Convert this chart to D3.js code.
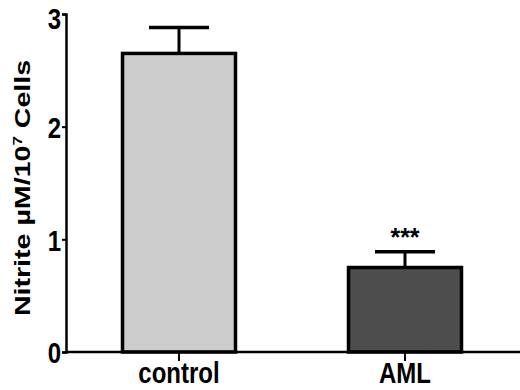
<!DOCTYPE html>
<meta charset="utf-8">
<style>
body { margin: 0; background: #fff; }
svg, text { font-family: 'Liberation Sans', Arial, sans-serif; font-weight: bold; }
</style>
<body>
<script src="https://d3js.org/d3.v7.min.js"></script>
<script>

var groups = ["control", "AML"];
var means = [2.65, 0.75];
var errs = [0.23, 0.14];
var colors = ["#cccccc", "#4d4d4d"];
var stars = ["", "***"];
var yTicks = [0, 1, 2, 3];

var width = 520, height = 390;
var margin = {top: 14, right: 0, bottom: 38, left: 66};
var stretch = 1.25; // text in the picture is drawn taller than wide

var svg = d3.select("body").append("svg")
    .attr("width", width)
    .attr("height", height);

var x = d3.scaleBand()
    .domain(groups)
    .range([margin.left, 518])
    .paddingInner(0.5)
    .paddingOuter(0.25);

var y = d3.scaleLinear()
    .domain([0, 3])
    .range([352, margin.top]);

// bars
svg.selectAll(".bar")
    .data(groups)
  .enter().append("rect")
    .attr("class", "bar")
    .attr("x", function(d) { return x(d); })
    .attr("y", function(d, i) { return y(means[i]); })
    .attr("width", x.bandwidth())
    .attr("height", function(d, i) { return y(0) - y(means[i]); })
    .style("fill", function(d, i) { return colors[i]; })
    .style("stroke", "#000")
    .style("stroke-width", 3.5);

// error bars (upper only)
var eb = svg.selectAll(".err")
    .data(groups)
  .enter().append("g")
    .attr("class", "err");

eb.append("line")
    .attr("x1", function(d) { return x(d) + x.bandwidth() / 2; })
    .attr("x2", function(d) { return x(d) + x.bandwidth() / 2; })
    .attr("y1", function(d, i) { return y(means[i]); })
    .attr("y2", function(d, i) { return y(means[i] + errs[i]); })
    .style("stroke", "#000").style("stroke-width", 3);

eb.append("line")
    .attr("x1", function(d) { return x(d) + x.bandwidth() / 2 - 30; })
    .attr("x2", function(d) { return x(d) + x.bandwidth() / 2 + 30; })
    .attr("y1", function(d, i) { return y(means[i] + errs[i]); })
    .attr("y2", function(d, i) { return y(means[i] + errs[i]); })
    .style("stroke", "#000").style("stroke-width", 3.5);

eb.append("text")
    .attr("x", function(d) { return x(d) + x.bandwidth() / 2; })
    .attr("y", function(d, i) { return y(means[i] + errs[i]) - 6; })
    .attr("text-anchor", "middle")
    .style("font-size", "25px")
    .text(function(d, i) { return stars[i]; });

// axes
var yAxis = d3.axisLeft(y).tickValues(yTicks).tickFormat(d3.format("d")).tickSizeOuter(0).tickSize(4).tickPadding(1);
var gy = svg.append("g")
    .attr("transform", "translate(" + margin.left + ",0)")
    .call(yAxis);
gy.select(".domain").style("stroke-width", 2.5);
gy.selectAll(".tick line").style("stroke-width", 2);
gy.selectAll("text")
    .attr("dy", function(d) { return d === 3 ? "0.47em" : "0.36em"; })
    .attr("transform", "scale(1," + stretch + ")")
    .style("font-size", "24px").style("font-weight", "bold")
    .style("font-family", "'Liberation Sans', Arial, sans-serif");

var xAxis = d3.axisBottom(x).tickSizeOuter(0).tickSize(9);
var gx = svg.append("g")
    .attr("transform", "translate(0," + y(0) + ")")
    .call(xAxis);
gx.select(".domain").attr("d", "M" + margin.left + ",0H520").style("stroke-width", 2.5);
gx.selectAll(".tick line").style("stroke-width", 2);
gx.selectAll("text")
    .attr("y", 31 / stretch)
    .attr("dy", 0)
    .attr("transform", "scale(1," + stretch + ")")
    .style("font-size", "24px").style("font-weight", "bold")
    .style("font-family", "'Liberation Sans', Arial, sans-serif");

svg.append("text")
    .attr("transform", "translate(30,188) rotate(-90) scale(1.3,1)")
    .attr("text-anchor", "middle")
    .style("font-size", "22px")
    .html("Nitrite µM/10<tspan dy='-8' font-size='13px'>7</tspan><tspan dy='8'> Cells</tspan>");

</script>
</body>
